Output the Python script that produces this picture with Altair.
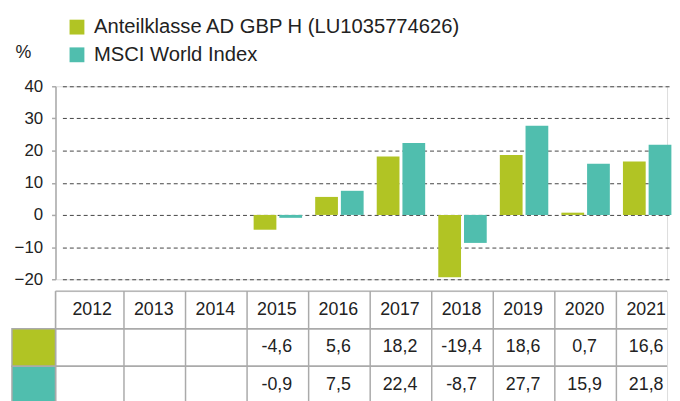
import altair as alt
import pandas as pd

years = ["2012", "2013", "2014", "2015", "2016", "2017", "2018", "2019", "2020", "2021"]
series = ["Anteilklasse AD GBP H (LU1035774626)", "MSCI World Index"]
fund = [None, None, None, -4.6, 5.6, 18.2, -19.4, 18.6, 0.7, 16.6]
index = [None, None, None, -0.9, 7.5, 22.4, -8.7, 27.7, 15.9, 21.8]
colors = ["#B1C424", "#50BEAE"]
y_ticks = [-20, -10, 0, 10, 20, 30, 40]
rows = ["year", "fund", "index"]

FONT = "Liberation Sans"
GRAY = "#AAAAAA"
TXT = "#222222"

def fmt(v):
    return "" if v is None else f"{v:.1f}".replace(".", ",")

bar_rows = []
for s, vals in zip(series, [fund, index]):
    for y, v in zip(years, vals):
        if v is not None:
            bar_rows.append({"year": y, "series": s, "value": v})
bars_df = pd.DataFrame(bar_rows)

table_rows = []
for y in years:
    table_rows.append({"year": y, "row": "year", "label": y})
for r, vals in zip(["fund", "index"], [fund, index]):
    for y, v in zip(years, vals):
        table_rows.append({"year": y, "row": r, "label": fmt(v)})
table_df = pd.DataFrame(table_rows)

swatch_df = pd.DataFrame({"row": ["fund", "index"], "series": series})
vlines_df = pd.DataFrame({"year": years[1:]})
hlines_df = pd.DataFrame({"row": rows})

W = 618
BAR_H = 195
TAB_H = 114

xscale = alt.Scale(domain=years, range=[7, 629], paddingInner=0, paddingOuter=0)
cscale = alt.Scale(domain=series, range=colors)
rscale = alt.Scale(domain=rows, paddingInner=0, paddingOuter=0)

bars = alt.Chart(bars_df).mark_bar().encode(
    x=alt.X("year:N", scale=xscale, axis=None),
    xOffset=alt.XOffset("series:N", scale=alt.Scale(domain=series, paddingInner=0.115, paddingOuter=0.255)),
    y=alt.Y("value:Q",
            scale=alt.Scale(domain=[-20, 40], nice=False, zero=False),
            axis=alt.Axis(values=y_ticks, grid=True, gridDash=[4, 3], gridColor="#444444", gridWidth=1,
                          domainColor=GRAY, domainWidth=1.5, tickColor=GRAY, tickSize=4, tickWidth=1.5,
                          labelFont=FONT, labelFontSize=17, labelColor=TXT, labelPadding=9,
                          title="%", titleAngle=0, titleFont=FONT, titleFontSize=18, titleFontWeight="normal",
                          titleColor=TXT, titleAlign="left", titleBaseline="middle", titleX=-41, titleY=-34)),
    color=alt.Color("series:N", scale=cscale,
                    legend=alt.Legend(title=None, orient="none", legendX=11.5, legendY=-70,
                                      symbolType="square", symbolSize=225, symbolStrokeWidth=0,
                                      labelFont=FONT, labelFontSize=20.4, labelColor=TXT, labelLimit=1000,
                                      labelOffset=7, rowPadding=7, padding=0)),
).properties(width=W, height=BAR_H)

text = alt.Chart(table_df).mark_text(font=FONT, fontSize=18, color=TXT, align="center", baseline="middle", dx=-1).encode(
    x=alt.X("year:N", scale=xscale, axis=None),
    y=alt.Y("row:N", scale=rscale, axis=None),
    text="label:N",
)

swatches = alt.Chart(swatch_df).mark_rect(stroke=GRAY, strokeWidth=1.5).encode(
    x=alt.value(-44), x2=alt.value(0),
    y=alt.Y("row:N", scale=rscale, axis=None),
    color=alt.Color("series:N", scale=cscale, legend=None),
)

vlines = alt.Chart(vlines_df).mark_rule(color=GRAY, strokeWidth=1.5).encode(
    x=alt.X("year:N", scale=xscale, axis=None, bandPosition=0),
    y=alt.value(0), y2=alt.value(TAB_H),
)
edge = alt.Chart(vlines_df.head(1)).mark_rule(color=GRAY, strokeWidth=1.5).encode(
    x=alt.value(0), y=alt.value(0), y2=alt.value(TAB_H),
)
hlines_top = alt.Chart(hlines_df).mark_rule(color=GRAY, strokeWidth=1.5).encode(
    y=alt.Y("row:N", scale=rscale, axis=None, bandPosition=0),
    x=alt.value(0), x2=alt.value(W),
)
hlines_bot = alt.Chart(hlines_df).mark_rule(color=GRAY, strokeWidth=1.5).encode(
    y=alt.Y("row:N", scale=rscale, axis=None, bandPosition=1),
    x=alt.value(0), x2=alt.value(W),
)

table = alt.layer(vlines, edge, hlines_top, hlines_bot, swatches, text).properties(width=W, height=TAB_H)

chart = alt.vconcat(bars, table, spacing=1).properties(
    padding={"left": 2, "top": 7, "right": 0, "bottom": 0}
).configure_view(stroke=None).configure(font=FONT)

chart.save("out.html", embed_options={"renderer": "svg", "actions": False})
